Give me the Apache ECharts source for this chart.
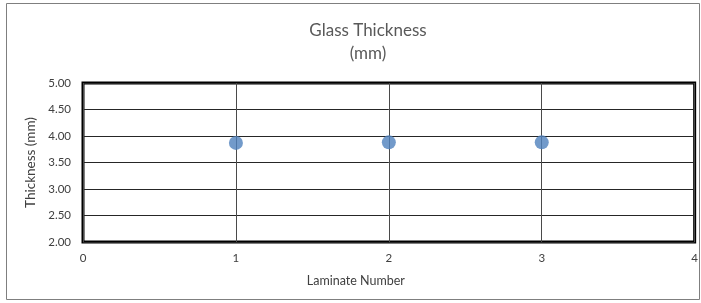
<!DOCTYPE html>
<html><head><meta charset="utf-8">
<script src="https://cdn.jsdelivr.net/npm/echarts@6/dist/echarts.min.js"></script>
<style>html,body{margin:0;padding:0;background:#fff}#c{width:701px;height:303px}</style>
</head><body><div id="c"></div>
<script>
const laminates = [1, 2, 3];
const thickness = [3.87, 3.88, 3.88];
const yTicks = [2, 2.5, 3, 3.5, 4, 4.5, 5];
const titleLines = ['Glass Thickness', '(mm)'];
const xName = 'Laminate Number';
const yName = 'Thickness (mm)';

const chart = echarts.init(document.getElementById('c'), null, {renderer: 'canvas'});
const font = 'Lato, "Open Sans", sans-serif';
chart.setOption({
  animation: false,
  graphic: [{type: 'rect', shape: {x: 6.5, y: 3.5, width: 693, height: 296}, style: {fill: 'none', stroke: '#7f7f7f', lineWidth: 1}, z: -1}],
  title: {text: titleLines.join('\n'), left: 363, top: 14, textAlign: 'center',
    textStyle: {fontFamily: font, fontSize: 17, fontWeight: 'normal', color: '#595959', lineHeight: 23}},
  grid: {left: 83, right: 6, top: 83, bottom: 61, show: true, borderColor: '#000', borderWidth: 3},
  xAxis: {type: 'value', min: 0, max: 4, interval: 1,
    name: xName, nameLocation: 'middle', nameGap: 32,
    nameTextStyle: {fontFamily: font, fontSize: 12.5, color: '#404040', padding: [0, 66, 0, 0]},
    axisLine: {show: false}, axisTick: {show: false},
    axisLabel: {fontFamily: font, fontSize: 11.5, color: '#404040', margin: 10},
    splitLine: {show: true, lineStyle: {color: '#4a4a4a', width: 1}}},
  yAxis: {type: 'value', min: yTicks[0], max: yTicks[yTicks.length-1], interval: 0.5,
    name: yName, nameLocation: 'middle', nameGap: 41,
    nameTextStyle: {fontFamily: font, fontSize: 13.5, color: '#404040'},
    axisLine: {show: false}, axisTick: {show: false},
    axisLabel: {fontFamily: font, fontSize: 11.5, color: '#404040', margin: 12, formatter: v => v.toFixed(2)},
    splitLine: {show: true, lineStyle: {color: '#262626', width: 1}}},
  series: [{type: 'scatter', data: laminates.map((x, i) => [x, thickness[i]]),
    symbol: 'circle', symbolSize: 14, itemStyle: {color: '#4F81BD'}}]
});
</script></body></html>
